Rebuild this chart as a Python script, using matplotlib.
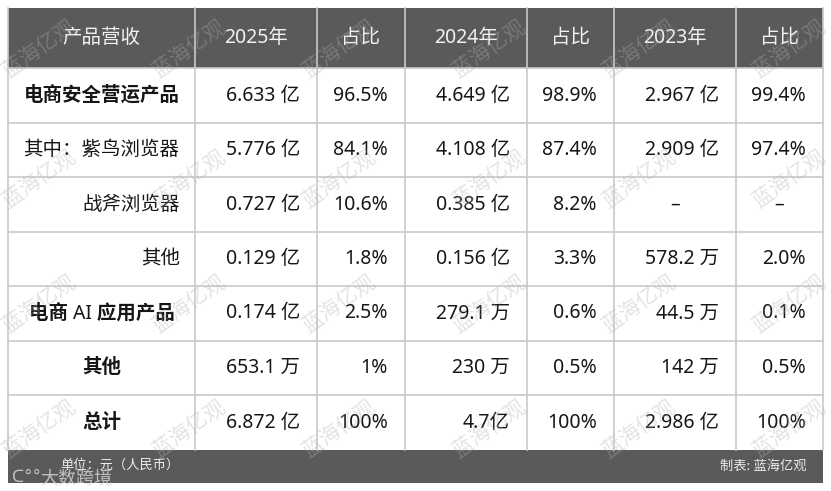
import matplotlib
matplotlib.use("Agg")
import matplotlib.pyplot as plt
from matplotlib.patches import Rectangle

plt.rcParams['font.family'] = ['Noto Sans', 'Noto Sans CJK SC', 'DejaVu Sans']

# ---- data ----
headers = ['产品营收', '2025年', '占比', '2024年', '占比', '2023年', '占比']
categories = ['电商安全营运产品', '其中：紫鸟浏览器', '战斧浏览器', '其他',
              '电商 AI 应用产品', '其他', '总计']
rev_2025 = ['6.633 亿', '5.776 亿', '0.727 亿', '0.129 亿', '0.174 亿', '653.1 万', '6.872 亿']
share_2025 = ['96.5%', '84.1%', '10.6%', '1.8%', '2.5%', '1%', '100%']
rev_2024 = ['4.649 亿', '4.108 亿', '0.385 亿', '0.156 亿', '279.1 万', '230 万', '4.7亿']
share_2024 = ['98.9%', '87.4%', '8.2%', '3.3%', '0.6%', '0.5%', '100%']
rev_2023 = ['2.967 亿', '2.909 亿', '–', '578.2 万', '44.5 万', '142 万', '2.986 亿']
share_2023 = ['99.4%', '97.4%', '–', '2.0%', '0.1%', '0.5%', '100%']
footer_left = '单位：元（人民币）'
footer_right = '制表: 蓝海亿观'
watermark = '蓝海亿观'
watermark2 = '大数跨境'

# ---- layout (pixels) ----
W, H = 831, 491
col_edges = [8, 195, 317, 405, 527, 614, 736, 823]
row_edges = [8, 68, 123, 177, 232, 286, 341, 395, 450]
footer_bottom = 483
first_col_align = ['center', 'center', 'right', 'right', 'center', 'center', 'center']
first_col_bold = [True, False, False, False, True, True, True]
header_bg = '#5a5a5a'
grid_c = '#c9c9c9'
text_c = '#161616'
pad = 17
fs = 14

fig = plt.figure(figsize=(W / 100, H / 100), dpi=100)
ax = fig.add_axes([0, 0, 1, 1])
ax.set_xlim(0, W)
ax.set_ylim(H, 0)
ax.axis('off')

# header & footer backgrounds
ax.add_patch(Rectangle((col_edges[0], row_edges[0]), col_edges[-1] - col_edges[0],
                       row_edges[1] - row_edges[0], color=header_bg, zorder=1, lw=0))
ax.add_patch(Rectangle((col_edges[0], row_edges[-1]), col_edges[-1] - col_edges[0],
                       footer_bottom - row_edges[-1], color=header_bg, zorder=1, lw=0))

# grid lines
for x in col_edges:
    ax.plot([x, x], [row_edges[0], row_edges[-1]], color=grid_c, lw=1.2, zorder=2)
for y in row_edges[1:-1]:
    ax.plot([col_edges[0], col_edges[-1]], [y, y], color=grid_c, lw=1.2, zorder=2)

# header text
for j, h in enumerate(headers):
    cx = (col_edges[j] + col_edges[j + 1]) / 2
    cy = (row_edges[0] + row_edges[1]) / 2
    ax.text(cx, cy, h, ha='center', va='center', fontsize=fs, color='#f2f2f2', zorder=3)

# body
columns = [rev_2025, share_2025, rev_2024, share_2024, rev_2023, share_2023]
for i, cat in enumerate(categories):
    cy = (row_edges[i + 1] + row_edges[i + 2]) / 2
    al = first_col_align[i]
    if al == 'center':
        x0 = (col_edges[0] + col_edges[1]) / 2
    else:
        x0 = col_edges[1] - 15
    ax.text(x0, cy, cat, ha=al, va='center', fontsize=fs, color=text_c,
            fontweight='bold' if first_col_bold[i] else 'normal', zorder=3)
    for j, col in enumerate(columns):
        v = col[i]
        if v == '–':
            ax.text((col_edges[j + 1] + col_edges[j + 2]) / 2, cy, v, ha='center',
                    va='center', fontsize=fs, color=text_c, zorder=3)
        else:
            ax.text(col_edges[j + 2] - pad, cy, v, ha='right', va='center',
                    fontsize=fs, color=text_c, zorder=3)

# footer text
fy = (row_edges[-1] + footer_bottom) / 2
ax.text(60, fy - 1, footer_left, ha='left', va='center', fontsize=9.5, color='#ececec', zorder=3)
ax.text(807, fy, footer_right, ha='right', va='center', fontsize=9.5, color='#ececec', zorder=3)

# watermarks
for wy in [50, 180, 305, 430]:
    for wx in [40, 190, 340, 490, 640, 790]:
        ax.text(wx, wy, watermark, ha='center', va='center', fontsize=15, rotation=35,
                color='#b0b0b0', alpha=0.35, zorder=4)
ax.text(40, 479, watermark2, ha='left', va='center', fontsize=13, color='#d8d8d8',
        alpha=0.8, zorder=4)
ax.text(12, 477, 'ᑕ°°', ha='left', va='center', fontsize=12, color='#d8d8d8',
        alpha=0.8, zorder=4, family=['DejaVu Sans'])

fig.savefig('out.png', dpi=100)
